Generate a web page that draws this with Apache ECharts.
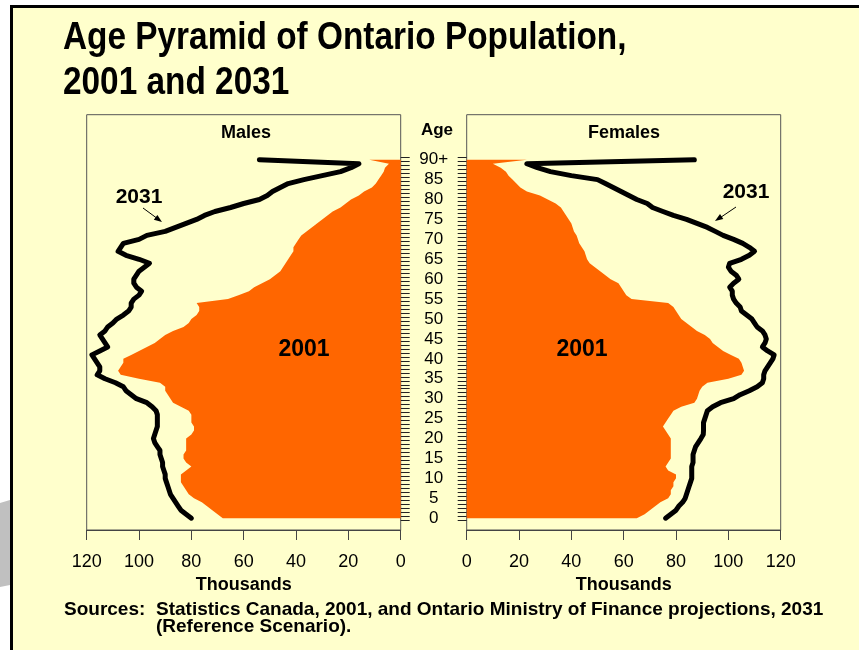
<!DOCTYPE html>
<html><head><meta charset="utf-8">
<style>html,body{margin:0;padding:0;background:#fff;}#c{width:859px;height:650px;}</style>
<script src="https://cdn.jsdelivr.net/npm/echarts@6/dist/echarts.min.js"></script>
</head><body><div id="c"></div>
<script>
// Ages 0..89 and 90+
const ages = [];
for (let a = 0; a < 90; a++) ages.push(String(a));
ages.push('90+');

// Thousands, ages 0..90+
const male2001 = [68,70,72,74,76,79,81,82,83,84,84,84,82,80,82,83,83,82,82,82,
  82,80,79,79,80,80,80,81,84,87,88,89,90,90,92,100,107,108,107,106,
  106,103,100,97,94,92,90,87,83,81,80,78,77,77,78,66,62,58,56,53,
  50,48,46,45,44,43,42,41,41,40,39,38,36,34,32,30,28,26,23,21,
  19,16,14,11,9.5,8.5,7.5,6.5,6,4.5,12];
const male2031 = [80,82,84,85,86,87,88,88.5,89,89.5,90,90,90.5,91,91,91.5,92,92,93,94,
  94.5,94,93.5,93,93,93,93,93.5,95,97,101,103,105,106,109,113,116,115,115,116,
  117,118,115,112,113,114,115,113,112,110,108.5,106,104,103,103,102,100,99,101,102,
  102,101,100,98,96,100,105,108,107,106,100,97,90,86,82,78,75,71,65,60,
  54,51,49,46,43,37,30,23,19,16,54];
const female2001 = [65,68,70,72,74,77,78,78,79,79,80,80,77,76,77,78,78,78,78,78,
  78,77,76,75,76,77,78,79,82,87,88,88.5,89,90,92,100,105,106,105.5,105,
  104,101,98,96,94,93,91,88,86,84,82,81,80,79,77,63,61,60,59,58,
  55,53,51,49,47,46,45.5,45,44,43,42.5,42,41,40.5,40,39,38,37,36,34,
  31,28,23,20.5,19,17.5,16,15,13,10,23];
const female2031 = [76,78,80,81,82.5,83.5,84,84.5,85,85.5,86,86,86,86,86.5,86.5,86.5,87,87.5,88.5,
  89.5,90.4,90.5,90.5,90.5,91,91.5,92,94,97,102,104.5,108,111,113,113.5,113.5,114,115,116,
  117,117.5,115,113,114,114.5,114,113,111,110,109,107,105,104.5,103,102,101.5,101.5,100.5,102,
  104,103,101,100,100.5,105,108,110,108,105.5,102,98,95,92,88,84,79,75,71,69,
  65,62,59,56,53,50,40,32,27,23,87];

const xTicks = {min: 0, max: 120, interval: 20};

const BG = '#FFFFCC';
const ORANGE = '#FF6600';
const FONT = 'Liberation Sans, Arial, sans-serif';

const chart = echarts.init(document.getElementById('c'), null, {renderer: 'canvas'});

const frameGrid = (left) => ({left: left, top: 114.7, width: 314, height: 415.3, show: true,
  borderColor: '#555', borderWidth: 1, backgroundColor: 'transparent'});
const dataGrid = (left) => ({left: left, top: 157.7, width: 314, height: 362.5});

const visX = (grid, inverse) => ({
  type: 'value', gridIndex: grid, min: xTicks.min, max: xTicks.max, interval: xTicks.interval,
  inverse: inverse, position: 'bottom',
  axisLine: {show: true, lineStyle: {color: '#444', width: 1}},
  axisTick: {show: true, inside: false, length: 10, lineStyle: {color: '#444'}},
  axisLabel: {show: true, fontSize: 18, color: '#000', fontFamily: FONT, margin: 23},
  splitLine: {show: false},
  name: 'Thousands', nameLocation: 'middle', nameGap: 44,
  nameTextStyle: {fontSize: 18, fontWeight: 'bold', color: '#000', fontFamily: FONT}
});
const hidX = (grid, inverse) => ({type: 'value', gridIndex: grid, min: xTicks.min, max: xTicks.max,
  inverse: inverse, show: false, splitLine: {show: false}});

const txt = (text, x, y, size, align, extra) => Object.assign({type: 'text', z: 10,
  style: {text: text, x: x, y: y, align: align || 'center', verticalAlign: 'middle',
    font: 'bold ' + size + 'px ' + FONT, fill: '#000'}}, extra || {});

const option = {
  backgroundColor: '#ffffff',
  animation: false,
  grid: [frameGrid(86.7), frameGrid(466.7), dataGrid(86.7), dataGrid(466.7)],
  xAxis: [visX(0, true), visX(1, false), hidX(2, true), hidX(3, false)],
  yAxis: [
    {type: 'value', gridIndex: 0, show: false, min: 0, max: 1, splitLine: {show: false}},
    {type: 'value', gridIndex: 1, show: false, min: 0, max: 1, splitLine: {show: false}},
    {type: 'category', gridIndex: 2, data: ages, position: 'right', boundaryGap: true,
      axisLine: {show: false},
      axisTick: {show: true, inside: false, length: 9, interval: 0, lineStyle: {color: '#222', width: 1}},
      axisLabel: {show: true, interval: 4, align: 'center', margin: 33, fontSize: 17, color: '#000', fontFamily: FONT},
      splitLine: {show: false}},
    {type: 'category', gridIndex: 3, data: ages, position: 'left', boundaryGap: true,
      axisLine: {show: false},
      axisTick: {show: true, inside: false, length: 9, interval: 0, lineStyle: {color: '#222', width: 1}},
      axisLabel: {show: false},
      splitLine: {show: false}}
  ],
  series: [
    {name: 'Males 2001', type: 'line', xAxisIndex: 2, yAxisIndex: 2, data: male2001,
      symbol: 'none', lineStyle: {width: 0}, areaStyle: {color: ORANGE, opacity: 1}, z: 3},
    {name: 'Females 2001', type: 'line', xAxisIndex: 3, yAxisIndex: 3, data: female2001,
      symbol: 'none', lineStyle: {width: 0}, areaStyle: {color: ORANGE, opacity: 1}, z: 3},
    {name: 'Males 2031', type: 'line', xAxisIndex: 2, yAxisIndex: 2, data: male2031,
      symbol: 'none', lineStyle: {width: 5, color: '#000', join: 'round', cap: 'round'}, z: 4},
    {name: 'Females 2031', type: 'line', xAxisIndex: 3, yAxisIndex: 3, data: female2031,
      symbol: 'none', lineStyle: {width: 5, color: '#000', join: 'round', cap: 'round'}, z: 4}
  ],
  graphic: [
    {type: 'rect', z: -100, silent: true, shape: {x: 10, y: 5, width: 849, height: 645}, style: {fill: '#000'}},
    {type: 'rect', z: -99, silent: true, shape: {x: 13, y: 8, width: 846, height: 642}, style: {fill: BG}},
    {type: 'polygon', z: -100, silent: true, shape: {points: [[0, 503], [10, 500], [10, 585], [0, 587]]}, style: {fill: '#C0C0C0'}},
    // title (condensed, like the original)
    {type: 'text', z: 10, x: 63, y: 38.5, scaleX: 0.878,
      style: {text: 'Age Pyramid of Ontario Population,', x: 0, y: 0, align: 'left', verticalAlign: 'middle',
        font: 'bold 38px ' + FONT, fill: '#000'}},
    {type: 'text', z: 10, x: 63, y: 83.5, scaleX: 0.878,
      style: {text: '2001 and 2031', x: 0, y: 0, align: 'left', verticalAlign: 'middle',
        font: 'bold 38px ' + FONT, fill: '#000'}},
    txt('Males', 246, 133, 18),
    txt('Females', 624, 133, 18),
    txt('Age', 437, 130, 17),
    txt('2001', 304, 350, 23),
    txt('2001', 582, 350, 23),
    txt('2031', 139, 197, 21),
    txt('2031', 746, 192, 21),
    {type: 'line', z: 10, shape: {x1: 143, y1: 208, x2: 158, y2: 219}, style: {stroke: '#000', lineWidth: 1}},
    {type: 'polygon', z: 10, shape: {points: [[162, 222], [153.8, 219.7], [157.4, 214.9]]}, style: {fill: '#000'}},
    {type: 'line', z: 10, shape: {x1: 736, y1: 207, x2: 719, y2: 218.5}, style: {stroke: '#000', lineWidth: 1}},
    {type: 'polygon', z: 10, shape: {points: [[715, 221], [720, 214.1], [723.3, 219.1]]}, style: {fill: '#000'}},
    txt('Sources:', 64, 610, 19, 'left'),
    txt('Statistics Canada, 2001, and Ontario Ministry of Finance projections, 2031', 156, 610, 19, 'left'),
    txt('(Reference Scenario).', 156, 627, 19, 'left')
  ]
};
chart.setOption(option);
</script>
</body></html>
